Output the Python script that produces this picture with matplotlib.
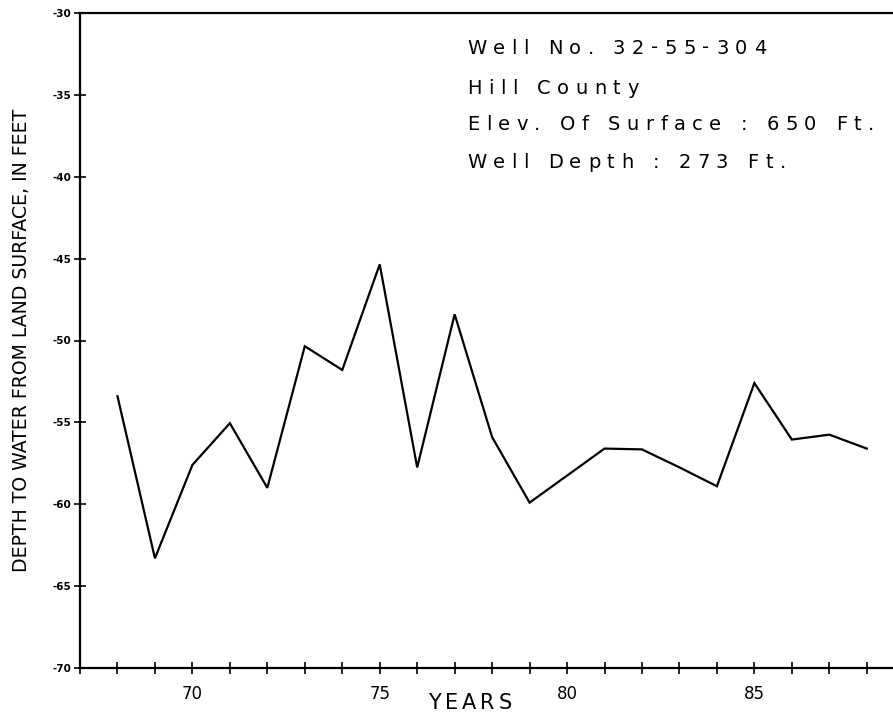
import numpy as np
import matplotlib
matplotlib.use('Agg')
import matplotlib.pyplot as plt
from matplotlib.ticker import MultipleLocator

plt.rc('font', family='DejaVu Sans')

# hydrograph values
years = [68, 69, 70, 71, 72, 73, 74, 75, 76, 77, 78, 79, 81, 82, 83, 84, 85, 86, 87, 88]
depth = [-53.4, -63.3, -57.6, -55.05, -59.0, -50.35, -51.8, -45.35, -57.75, -48.4,
         -55.9, -59.9, -56.6, -56.65, -57.75, -58.9, -52.6, -56.05, -55.75, -56.6]

yticks = [-30, -35, -40, -45, -50, -55, -60, -65, -70]
xlabels = [70, 75, 80, 85]
info = ['Well No. 32-55-304', 'Hill County',
        'Elev. Of Surface : 650 Ft.', 'Well Depth : 273 Ft.']

fig = plt.figure(figsize=(8.93, 7.17), dpi=100)
ax = fig.add_axes([80/893, 1-668/717, 1-80/893, (668-13)/717])
renderer = fig.canvas.get_renderer()


def text_w(s, size):
    t = fig.text(0, 0, s, fontsize=size)
    w = t.get_window_extent(renderer).width
    t.remove()
    return w


def spaced_text(x, y, s, size, track):
    # plotter-style lettering: draw char by char with extra spacing (pixels)
    bar = text_w('||', size)
    for ch in s:
        if ch != ' ':
            fig.text(x/893, 1-y/717, ch, fontsize=size, ha='left', va='center')
        x += text_w('|' + ch + '|', size) - bar + track


ax.plot(years, depth, color='k', lw=1.6, solid_joinstyle='miter')

ax.set_xlim(67, 88.7)
ax.set_ylim(-70, -30)
ax.set_yticks(yticks)
ax.set_yticklabels([str(t) for t in yticks], fontsize=7.5, fontweight='bold')
ax.set_xticks(xlabels)
ax.set_xticklabels([str(t) for t in xlabels], fontsize=12)
ax.xaxis.set_minor_locator(MultipleLocator(1))
ax.tick_params(axis='both', which='both', direction='inout', length=8, width=1.2)
ax.tick_params(axis='x', which='major', pad=8)
ax.tick_params(axis='y', pad=2)

ax.spines['right'].set_visible(False)
for s in ['left', 'top', 'bottom']:
    ax.spines[s].set_linewidth(1.6)

ax.set_ylabel('DEPTH TO WATER FROM LAND SURFACE, IN FEET', fontsize=13.6,
              family='Liberation Sans Narrow', labelpad=16)

spaced_text(428, 703, 'YEARS', 15, 4)

yy = [48, 88, 124, 163]
for t, y in zip(info, yy):
    spaced_text(467, y, t, 14, 6.5)

fig.savefig('out.png', dpi=100)
